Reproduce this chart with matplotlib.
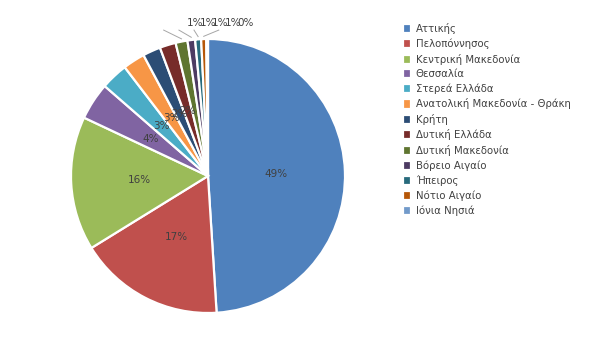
import numpy as np
import matplotlib
matplotlib.use("Agg")
import matplotlib.pyplot as plt

regions = [
    "Αττικής", "Πελοπόννησος", "Κεντρική Μακεδονία", "Θεσσαλία",
    "Στερεά Ελλάδα", "Ανατολική Μακεδονία - Θράκη", "Κρήτη",
    "Δυτική Ελλάδα", "Δυτική Μακεδονία", "Βόρειο Αιγαίο", "Ήπειρος",
    "Νότιο Αιγαίο", "Ιόνια Νησιά",
]
shares = [49.0, 17.2, 15.8, 4.4, 3.2, 2.6, 2.1, 1.9, 1.4, 0.9, 0.7, 0.6, 0.2]
colors = [
    "#4F81BD", "#C0504D", "#9BBB59", "#8064A2", "#4BACC6", "#F79646",
    "#2C4D75", "#772C2A", "#5F7530", "#4D3B62", "#276A7C", "#B65708",
    "#729ACA",
]
n_inside = 8  # the rest get labels above the pie

text_color = "#404040"

fig = plt.figure(figsize=(6.0, 3.51), dpi=100)
cx, cy, r = 208, 176, 137
ax = fig.add_axes([(cx - r) / 600, (351 - cy - r) / 351, 2 * r / 600, 2 * r / 351])

wedges, _ = ax.pie(
    shares, colors=colors, startangle=90, counterclock=False,
    wedgeprops=dict(edgecolor="white", linewidth=1.6),
)
ax.set_xlim(-1, 1)
ax.set_ylim(-1, 1)
ax.set_aspect("equal")

total = sum(shares)
for i, (w, v) in enumerate(zip(wedges, shares)):
    mid = np.deg2rad((w.theta1 + w.theta2) / 2)
    pct = f"{round(v / total * 100):.0f}%"
    if i < n_inside:
        ax.text(0.5 * np.cos(mid), 0.5 * np.sin(mid), pct, ha="center",
                va="center", fontsize=7.5, color=text_color)
    else:
        k = i - n_inside
        tx = -0.095 + 0.092 * k
        ty = 1.12
        ex, ey = 1.0 * np.cos(mid), 1.0 * np.sin(mid)
        ax.text(tx, ty, pct, ha="center", va="center", fontsize=7.5,
                color=text_color)
        if k < 4:
            lx = ex + (-0.13, -0.09, -0.03, 0.11)[k]
            ax.plot([ex, lx], [ey + 0.02, 1.065], color="#A6A6A6",
                    linewidth=0.7, clip_on=False)

fig.legend(
    wedges, regions, loc="upper left", bbox_to_anchor=(394 / 600, 1 - 14 / 351),
    frameon=False, fontsize=7.3, handlelength=0.8, handleheight=1.0,
    handletextpad=0.45, labelspacing=0.44, labelcolor=text_color,
)

fig.savefig("out.png", dpi=100, facecolor="white")
